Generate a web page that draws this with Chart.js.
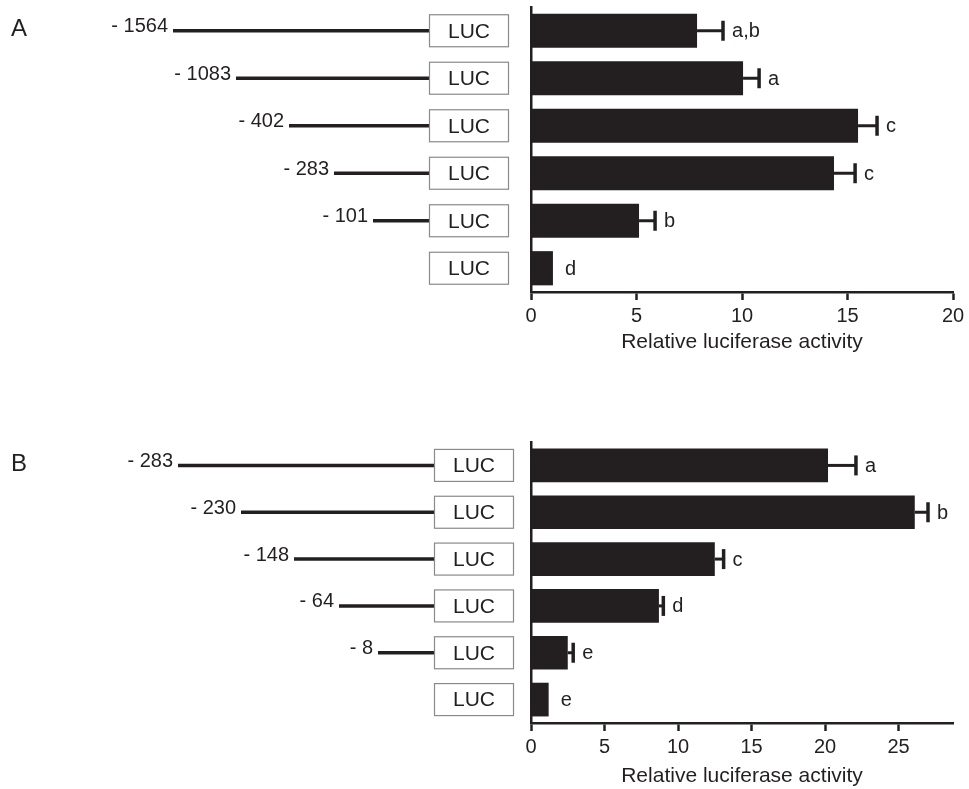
<!DOCTYPE html>
<html>
<head>
<meta charset="utf-8">
<script src="https://cdn.jsdelivr.net/npm/chart.js@4"></script>
<style>
body { margin: 0; background: #fff; }
.wrap { position: absolute; left: 0; width: 969px; }
#wrapA { top: 0; height: 355px; }
#wrapB { top: 400px; height: 389px; }
</style>
</head>
<body>
<div class="wrap" id="wrapA"><canvas id="chartA"></canvas></div>
<div class="wrap" id="wrapB"><canvas id="chartB"></canvas></div>
<script>
// Panel A - promoter deletion constructs
const constructsA = ['- 1564', '- 1083', '- 402', '- 283', '- 101', '']
const meansA = [7.87, 10.05, 15.5, 14.36, 5.12, 1.04]
const errorsA = [1.23, 0.76, 0.9, 1.0, 0.76, 0]
const lettersA = ['a,b', 'a', 'c', 'c', 'b', 'd']
const ticksA = [0, 5, 10, 15, 20]

// Panel B
const constructsB = ['- 283', '- 230', '- 148', '- 64', '- 8', '']
const meansB = [20.2, 26.1, 12.5, 8.7, 2.5, 1.2]
const errorsB = [1.9, 0.9, 0.6, 0.3, 0.37, 0]
const lettersB = ['a', 'b', 'c', 'd', 'e', 'e']
const ticksB = [0, 5, 10, 15, 20, 25]

const ink = '#231f20'
const fontName = '"Liberation Sans", Arial, sans-serif'
// schematic line lengths (px), longest construct first
const lineLengths = [256, 193, 140, 95, 56, 0]

function panelPlugin(panel, constructs, errors, letters, boxLeft) {
	return {
		id: 'panel' + panel,
		afterDatasetsDraw(chart) {
			const ctx = chart.ctx
			const x = chart.scales.x
			const meta = chart.getDatasetMeta(0)
			const means = chart.data.datasets[0].data
			ctx.save()
			ctx.strokeStyle = ink
			ctx.fillStyle = ink
			ctx.font = '20px ' + fontName
			ctx.textBaseline = 'middle'
			meta.data.forEach((bar, i) => {
				const x0 = x.getPixelForValue(means[i])
				const x1 = x.getPixelForValue(means[i] + errors[i])
				const y = bar.y
				if (errors[i] > 0) {
					ctx.lineWidth = 3
					ctx.beginPath()
					ctx.moveTo(x0, y)
					ctx.lineTo(x1, y)
					ctx.stroke()
					ctx.lineWidth = 3.5
					ctx.beginPath()
					ctx.moveTo(x1, y - 10)
					ctx.lineTo(x1, y + 10)
					ctx.stroke()
				}
				const gap = errors[i] > 0 ? 9 : 12
				ctx.fillText(letters[i], x1 + gap, y + 1)
			})
			ctx.restore()
		},
		afterDraw(chart) {
			const ctx = chart.ctx
			const meta = chart.getDatasetMeta(0)
			ctx.save()
			meta.data.forEach((bar, i) => {
				const y = bar.y
				// promoter line
				if (lineLengths[i] > 0) {
					ctx.strokeStyle = ink
					ctx.lineWidth = 3.5
					ctx.beginPath()
					ctx.moveTo(boxLeft - lineLengths[i], y)
					ctx.lineTo(boxLeft, y)
					ctx.stroke()
					ctx.fillStyle = ink
					ctx.font = '20px ' + fontName
					ctx.textAlign = 'right'
					ctx.textBaseline = 'middle'
					ctx.fillText(constructs[i], boxLeft - lineLengths[i] - 5, y - 4)
				}
				// LUC box
				ctx.fillStyle = '#fff'
				ctx.fillRect(boxLeft, y - 16.5, 80, 33)
				ctx.strokeStyle = '#8a8a8a'
				ctx.lineWidth = 1.2
				ctx.strokeRect(boxLeft + 0.5, y - 16, 79, 32)
				ctx.fillStyle = ink
				ctx.font = '21px ' + fontName
				ctx.textAlign = 'center'
				ctx.textBaseline = 'middle'
				ctx.fillText('LUC', boxLeft + 40, y + 1)
			})
			ctx.font = '24px ' + fontName
			ctx.textAlign = 'left'
			ctx.textBaseline = 'middle'
			ctx.fillStyle = ink
			ctx.fillText(panel, 11, meta.data[0].y - 1)
			ctx.restore()
		},
	}
}

function makeChart(id, panel, constructs, means, errors, letters, tickValues, xMax, padTop, xHeight, boxLeft) {
	return new Chart(document.getElementById(id).getContext('2d'), {
		type: 'bar',
		data: {
			labels: constructs.map(c => c || 'LUC'),
			datasets: [
				{
					data: means,
					backgroundColor: ink,
					borderWidth: 0,
					barPercentage: 0.72,
					categoryPercentage: 1,
				},
			],
		},
		options: {
			indexAxis: 'y',
			responsive: true,
			maintainAspectRatio: false,
			animation: false,
			layout: { padding: { left: 0, right: 16, top: padTop, bottom: 0 } },
			scales: {
				y: {
					grid: { display: false },
					ticks: { display: false },
					border: { display: true, color: ink, width: 2.5 },
					afterFit: s => { s.width = 531 },
				},
				x: {
					min: 0,
					max: xMax,
					ticks: {
						color: ink,
						padding: 4,
						autoSkip: false,
						font: { size: 20, family: fontName },
					},
					afterBuildTicks: s => {
						s.ticks = tickValues.map(v => ({ value: v }))
					},
					grid: {
						drawOnChartArea: false,
						drawTicks: true,
						tickLength: 8,
						tickColor: ink,
						tickWidth: 2.5,
					},
					border: { display: true, color: ink, width: 2.5 },
					title: {
						display: true,
						text: 'Relative luciferase activity',
						color: ink,
						padding: 0,
						font: { size: 21, family: fontName },
					},
					afterFit: s => { s.height = xHeight },
				},
			},
			plugins: {
				legend: { display: false },
				tooltip: { enabled: false },
			},
		},
		plugins: [panelPlugin(panel, constructs, errors, letters, boxLeft)],
	})
}

makeChart('chartA', 'A', constructsA, meansA, errorsA, lettersA, ticksA, 20, 7, 63, 429)
makeChart('chartB', 'B', constructsB, meansB, errorsB, lettersB, ticksB, 28.7, 42, 66, 434)
</script>
</body>
</html>
